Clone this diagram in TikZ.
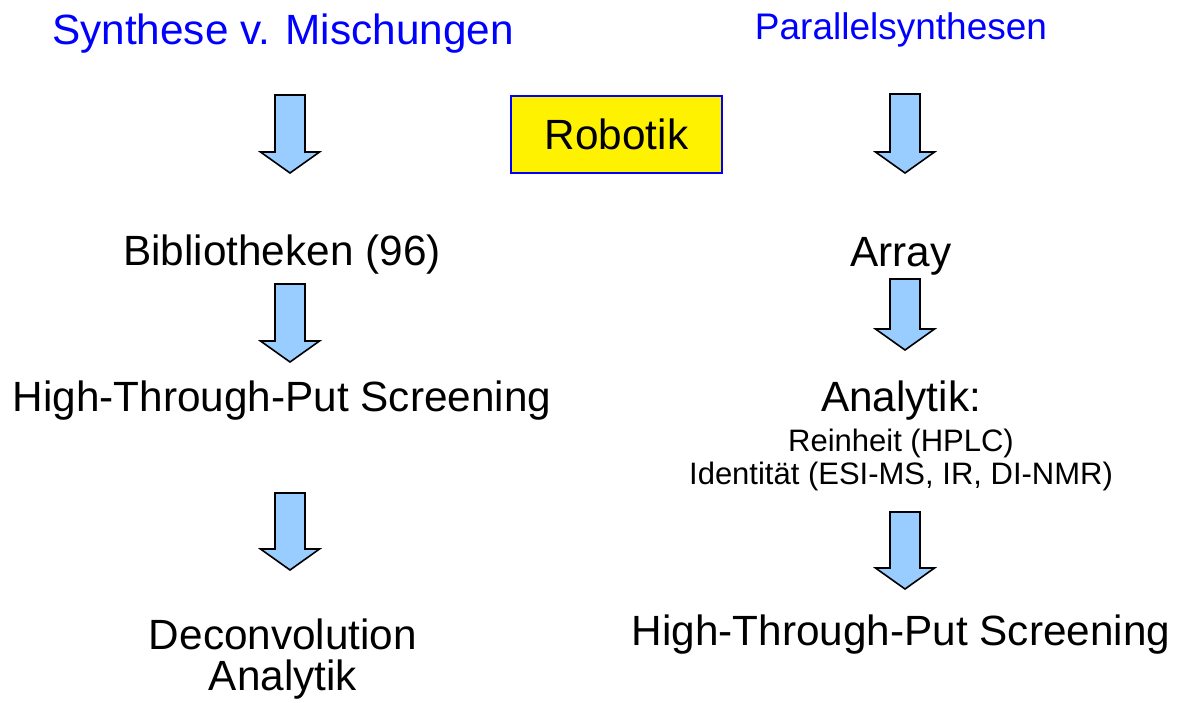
\documentclass[tikz,border=0pt]{standalone}
\usepackage{fontspec}
\setmainfont{Liberation Sans}
\definecolor{arrowblue}{RGB}{153,204,255}
\definecolor{titleblue}{RGB}{0,0,255}
\newcommand{\downblock}[3]{% x, ytop, ybot
  \draw[blockarrow] (#1-15,#2) -- (#1+15,#2) -- (#1+15,#3-21) -- (#1+29.5,#3-21)
    -- (#1,#3) -- (#1-29.5,#3-21) -- (#1-15,#3-21) -- cycle;}
\begin{document}
\begin{tikzpicture}[x=1pt,y=-1pt,
  big/.style={font=\fontsize{42.3}{50}\selectfont, inner sep=0pt, align=center},
  small/.style={font=\fontsize{31}{34}\selectfont, inner sep=0pt, align=center},
  blockarrow/.style={draw=black, line width=1.6pt, fill=arrowblue, line join=miter}]
\useasboundingbox (0,0) rectangle (1182,702);
% titles
\node[big, text=titleblue] (t1) at (283,34) {Synthese v. Mischungen};
\node[font=\fontsize{37}{40}\selectfont, inner sep=0pt, text=titleblue] (t2) at (901,30) {Parallelsynthesen};
% Robotik box
\node[draw=titleblue, line width=2pt, fill=yellow, minimum width=211pt, minimum height=77pt,
  font=\fontsize{42.3}{50}\selectfont] (rob) at (616.5,134) {Robotik};
% left column
\downblock{290}{95}{173}
\node[big] (bib) at (282,255) {Bibliotheken (96)};
\downblock{290}{284}{362}
\node[big] (htp1) at (282,401) {High-Through-Put Screening};
\downblock{290}{493}{570}
\node[big] (dec) at (283,634) {Deconvolution};
\node[big] (ana1) at (283,680) {Analytik};
% right column
\downblock{905}{94}{173}
\node[big] (arr) at (901,256) {Array};
\downblock{905}{279}{350}
\node[big] (ana2) at (901,401) {Analytik:};
\node[small] (rein) at (901,443) {Reinheit (HPLC)};
\node[small] (ident) at (901,476) {Identität (ESI-MS, IR, DI-NMR)};
\downblock{905}{512}{589}
\node[big] (htp2) at (901,635) {High-Through-Put Screening};
\end{tikzpicture}
\end{document}
